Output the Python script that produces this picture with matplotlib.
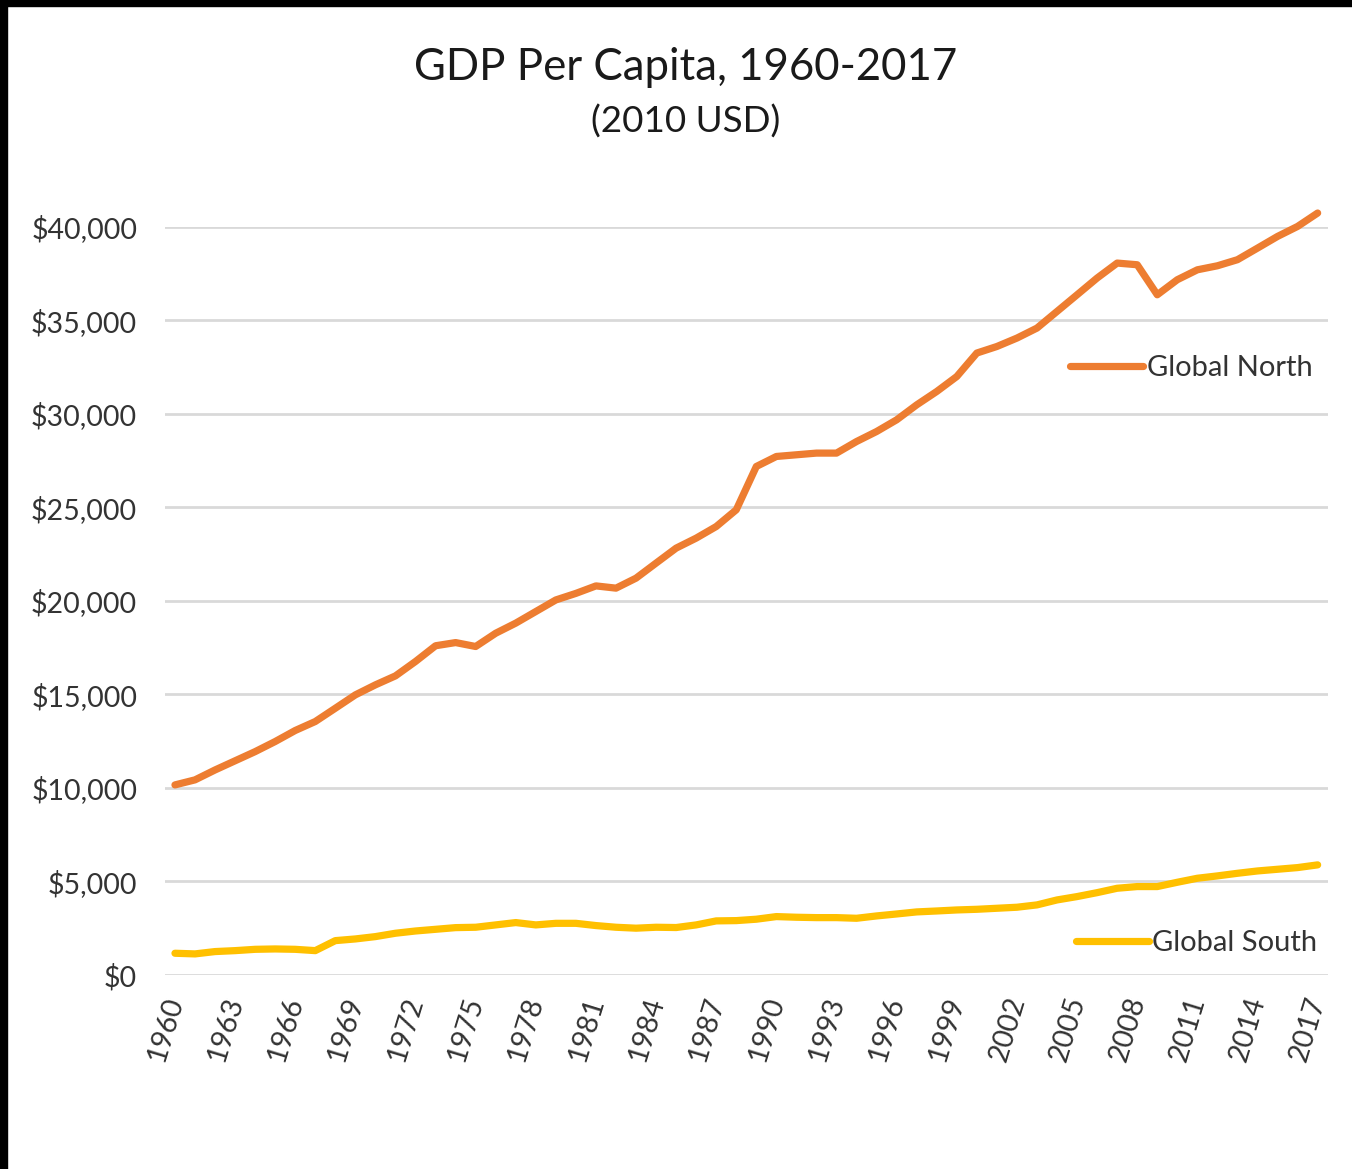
import matplotlib.pyplot as plt
from matplotlib.patches import Rectangle
from matplotlib.ticker import FuncFormatter

plt.rcParams['font.family'] = ['Lato', 'DejaVu Sans']

years = list(range(1960, 2018))

global_north = [
    10160, 10430, 10960, 11450, 11940, 12480, 13070, 13550, 14260, 14975,
    15510, 15990, 16760, 17600, 17770, 17560, 18270, 18810, 19430, 20050,
    20400, 20800, 20680, 21215, 22020, 22820, 23355, 23975, 24870, 27185,
    27720, 27810, 27900, 27900, 28520, 29055, 29680, 30480, 31195, 31995,
    33250, 33600, 34050, 34585, 35475, 36365, 37260, 38060, 37970, 36365,
    37170, 37700, 37915, 38240, 38860, 39485, 40020, 40735,
]

global_south = [
    1160, 1125, 1250, 1300, 1370, 1390, 1370, 1300, 1835, 1925,
    2050, 2230, 2350, 2440, 2530, 2550, 2675, 2800, 2675, 2760,
    2760, 2640, 2550, 2500, 2550, 2535, 2675, 2890, 2905, 2980,
    3120, 3085, 3065, 3065, 3030, 3155, 3260, 3370, 3420, 3475,
    3510, 3565, 3620, 3745, 4010, 4190, 4400, 4635, 4725, 4725,
    4955, 5170, 5295, 5435, 5560, 5650, 5740, 5885,
]

y_ticks = [0, 5000, 10000, 15000, 20000, 25000, 30000, 35000, 40000]
x_ticks = years[::3]

text_color = '#333333'

fig = plt.figure(figsize=(13.52, 11.69), dpi=100)
ax = fig.add_axes([0.122, 0.166, 0.860, 0.640])

north_line, = ax.plot(years, global_north, color='#ED7D31', lw=5.2,
                      solid_capstyle='round', clip_on=False, zorder=3)
south_line, = ax.plot(years, global_south, color='#FFC000', lw=5.2,
                      solid_capstyle='round', clip_on=False, zorder=3)

ax.set_xlim(1959.5, 2017.5)
ax.set_ylim(0, 40000)
ax.set_yticks(y_ticks)
ax.yaxis.set_major_formatter(FuncFormatter(lambda v, p: f'${v:,.0f}'))
ax.set_xticks(x_ticks)
ax.set_xticklabels([str(y) for y in x_ticks], rotation=73, ha='right',
                   va='center', rotation_mode='anchor')

ax.grid(axis='y', color='#d9d9d9', lw=2)
ax.set_axisbelow(True)
for s in ax.spines.values():
    s.set_visible(False)
ax.tick_params(axis='both', length=0, labelsize=20.5, colors=text_color)
ax.tick_params(axis='y', pad=20)
ax.tick_params(axis='x', pad=16)

leg_n = ax.legend(handles=[north_line], labels=['Global North'], loc='center right',
                  bbox_to_anchor=(0.987, 0.8115), frameon=False, fontsize=21,
                  handlelength=2.5, handletextpad=0.12, borderpad=0, borderaxespad=0,
                  labelcolor=text_color)
ax.add_artist(leg_n)
ax.legend(handles=[south_line], labels=['Global South'], loc='center right',
          bbox_to_anchor=(0.991, 0.043), frameon=False, fontsize=21,
          handlelength=2.5, handletextpad=0.12, borderpad=0, borderaxespad=0,
          labelcolor=text_color)

fig.text(0.507, 0.942, 'GDP Per Capita, 1960-2017', ha='center', va='center',
         fontsize=31.5, color='#1a1a1a')
fig.text(0.507, 0.896, '(2010 USD)', ha='center', va='center',
         fontsize=26.5, color='#1a1a1a')

# black scan edges
fig.patches.append(Rectangle((0, 1 - 6 / 1169), 1, 6 / 1169, transform=fig.transFigure,
                             color='black', zorder=10))
fig.patches.append(Rectangle((0, 0), 7 / 1352, 1, transform=fig.transFigure,
                             color='black', zorder=10))

fig.savefig('out.png', dpi=100, facecolor='white')
